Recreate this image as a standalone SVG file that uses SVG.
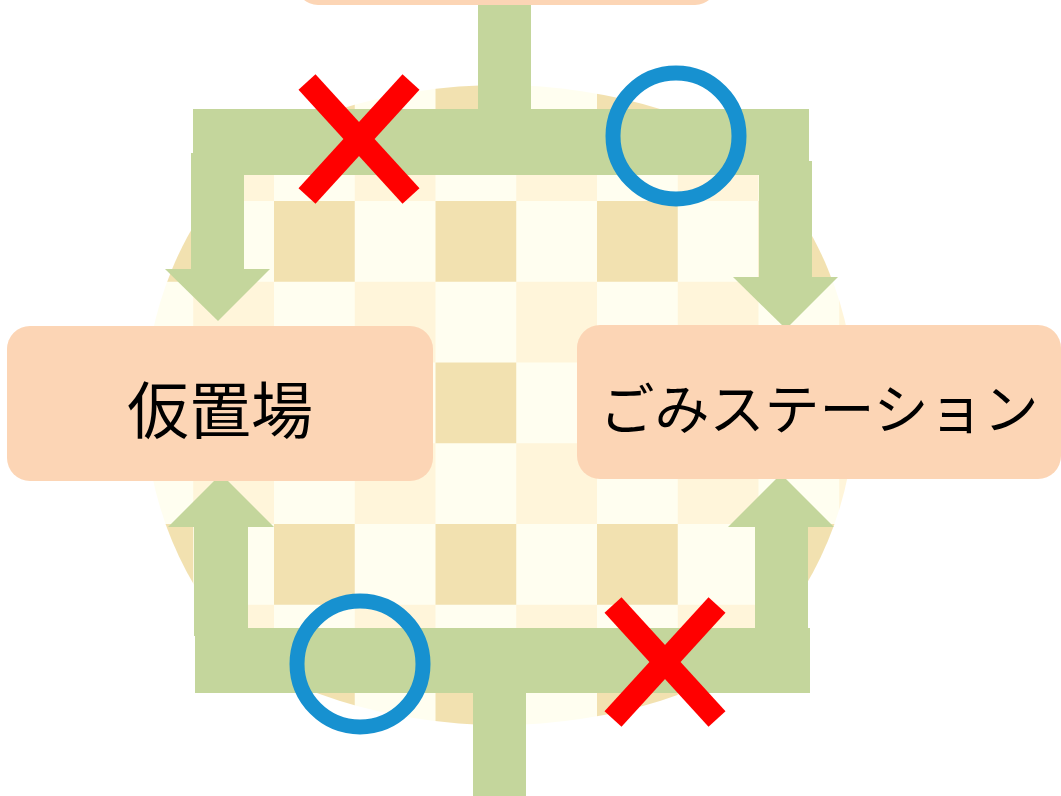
<svg xmlns="http://www.w3.org/2000/svg" width="1061" height="796" viewBox="0 0 1061 796">
  <style>
    .arrow { fill: #C4D69C; }
    .node { fill: #FCD5B5; }
    .label { font-family: "Noto Sans CJK JP", "Noto Sans", sans-serif; fill: #000000; text-anchor: middle; }
    .ng { stroke: #FF0000; stroke-width: 23; stroke-linecap: butt; fill: none; }
    .ok { stroke: #1791D0; stroke-width: 15; fill: none; }
  </style>
  <defs>
    <pattern id="check" patternUnits="userSpaceOnUse" x="112.5" y="39.5" width="161.5" height="161.5">
      <rect x="0" y="0" width="161.5" height="161.5" fill="#FFFEF0"/>
      <rect x="0" y="0" width="80.75" height="80.75" fill="#F2E1B0"/>
      <rect x="80.75" y="80.75" width="80.75" height="80.75" fill="#FFF5DA"/>
    </pattern>
    <clipPath id="disc">
      <circle cx="500" cy="405" r="355"/>
    </clipPath>
  </defs>
  <rect x="0" y="0" width="1061" height="796" fill="#FFFFFF"/>

  <g id="background" clip-path="url(#disc)">
    <ellipse cx="500" cy="405" rx="420" ry="320" fill="url(#check)"/>
  </g>

  <g id="connectors">
    <!-- top split -->
    <rect class="arrow" x="478" y="0" width="53" height="112"/>
    <rect class="arrow" x="193" y="109" width="616" height="66"/>
    <rect class="arrow" x="191" y="153" width="53" height="117"/>
    <polygon class="arrow" points="165,269 270,269 218,321"/>
    <rect class="arrow" x="759" y="161" width="53" height="117"/>
    <polygon class="arrow" points="733,277 838,277 786,329"/>
    <!-- bottom merge -->
    <rect class="arrow" x="473" y="690" width="53" height="106"/>
    <rect class="arrow" x="195" y="628" width="615" height="65"/>
    <rect class="arrow" x="194" y="526" width="54" height="110"/>
    <polygon class="arrow" points="168,527 274,527 221,474"/>
    <rect class="arrow" x="755" y="526" width="53" height="110"/>
    <polygon class="arrow" points="728,527 834,527 781,474"/>
  </g>

  <g id="node-top">
    <rect class="node" x="296" y="-80" width="421" height="85" rx="22" ry="22"/>
  </g>

  <g id="node-karioki">
    <rect class="node" x="7" y="326" width="426" height="155" rx="23" ry="23"/>
    <text class="label" x="220" y="434" font-size="62">仮置場</text>
  </g>

  <g id="node-gomi">
    <rect class="node" x="577" y="325" width="484" height="154" rx="23" ry="23"/>
    <text class="label" x="819" y="429" font-size="55">ごみステーション</text>
  </g>

  <g id="marks">
    <line class="ng" x1="307" y1="82" x2="411" y2="196"/>
    <line class="ng" x1="411" y1="82" x2="307" y2="196"/>
    <circle class="ok" cx="676" cy="136" r="63"/>
    <circle class="ok" cx="360" cy="664" r="63"/>
    <line class="ng" x1="613" y1="605" x2="717" y2="719"/>
    <line class="ng" x1="717" y1="605" x2="613" y2="719"/>
  </g>
</svg>
